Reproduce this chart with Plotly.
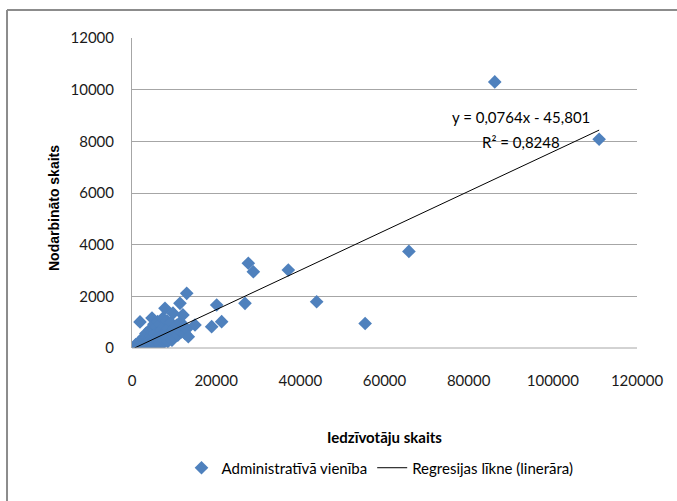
import plotly.graph_objects as go

# Population (Iedzīvotāju skaits) and employed persons (Nodarbināto skaits)
# for each administrative unit
population = [
    600, 800, 900, 1000, 1200, 1400, 1500, 1700, 1800, 1900, 2000, 2100, 2200,
    2300, 2400, 2500, 2600, 2700, 2800, 2900, 3000, 3000, 3100, 3200, 3300,
    3300, 3400, 3500, 3600, 3600, 3700, 3800, 3900, 4000, 4000, 4100, 4200,
    4300, 4300, 4400, 4500, 4600, 4700, 4750, 4800, 4900, 5000, 5000, 5100,
    5200, 5200, 5300, 5400, 5500, 5600, 5700, 5800, 5900, 6000, 6100, 6100,
    6200, 6300, 6400, 6500, 6500, 6600, 6700, 6800, 6900, 7000, 7200, 7300,
    7400, 7500, 7600, 7800, 7840, 8000, 8200, 8300, 8400, 8500, 8600, 8800,
    9000, 9200, 9400, 9500, 9600, 9740, 9800, 10000, 10300, 10600, 10900,
    11200, 11400, 11500, 11800, 12100, 12200, 12600, 13000, 13000, 13380,
    14970, 18930, 20120, 21300, 26850, 27640, 28830, 37140, 43880, 55400,
    65800, 86200, 111000,
]
employed = [
    30, 80, 130, 40, 60, 20, 110, 230, 90, 1010, 150, 60, 320,
    180, 120, 40, 210, 90, 420, 260, 150, 50, 330, 200, 120,
    560, 280, 420, 190, 60, 250, 310, 150, 540, 80, 230, 380,
    290, 720, 170, 460, 330, 250, 1160, 620, 390, 280, 100, 720,
    450, 920, 210, 350, 560, 300, 410, 820, 480, 260, 380, 1020,
    650, 520, 330, 440, 150, 900, 580, 360, 470, 700, 400, 1150,
    550, 200, 300, 850, 1535, 480, 620, 1050, 380, 250, 760, 520,
    450, 980, 640, 300, 560, 1350, 420, 760, 600, 880, 500,
    700, 1730, 1000, 620, 1280, 820, 560, 740, 2117, 437,
    890, 825, 1665, 1020, 1730, 3280, 2950, 3020, 1790, 950,
    3740, 10300, 8080,
]

# Linear trend line (regression) parameters
slope = 0.0764
intercept = -45.801
r_squared = 0.8248

x_ticks = [0, 20000, 40000, 60000, 80000, 100000, 120000]
y_ticks = [0, 2000, 4000, 6000, 8000, 10000, 12000]

BLUE = "#4f81bd"
GRID = "#a6a6a6"
FONT = "Lato, Roboto, sans-serif"
TICK_FONT = dict(family=FONT, size=15, color="#1a1a1a")

x_line = [min(population), max(population)]
y_line = [slope * v + intercept for v in x_line]

fig = go.Figure()
fig.add_trace(go.Scatter(
    x=population, y=employed, mode="markers",
    name="Administratīvā vienība",
    marker=dict(symbol="diamond", size=10.5, color=BLUE, line=dict(width=0)),
))
fig.add_trace(go.Scatter(
    x=x_line, y=y_line, mode="lines",
    name="Regresijas līkne (linerāra)",
    line=dict(color="black", width=1),
))

fig.update_layout(
    width=677, height=501,
    margin=dict(l=132, r=40, t=38, b=153),
    paper_bgcolor="white", plot_bgcolor="white",
    showlegend=True,
    legend=dict(
        orientation="h", x=0.098, xanchor="left", y=-0.387, yanchor="middle",
        font=dict(family=FONT, size=15, color="#000000"),
        bgcolor="rgba(0,0,0,0)", itemwidth=30, tracegroupgap=0,
    ),
    xaxis=dict(
        range=[0, 120000], tickvals=x_ticks, ticktext=[str(v) for v in x_ticks],
        showgrid=False, zeroline=False, showline=False,
        ticks="", ticklabelstandoff=22, tickfont=TICK_FONT,
    ),
    yaxis=dict(
        range=[0, 12000], tickvals=y_ticks, ticktext=[str(v) for v in y_ticks],
        showgrid=True, gridcolor=GRID, gridwidth=1, zeroline=False,
        showline=True, linecolor=GRID, linewidth=1,
        ticks="", ticklabelstandoff=14, tickfont=TICK_FONT,
    ),
    shapes=[
        # outer chart frame (left and top edges)
        dict(type="line", xref="paper", yref="paper", x0=-0.2475, x1=1.2,
             y0=1.0903, y1=1.0903, line=dict(color="#8c8c8c", width=2)),
        dict(type="line", xref="paper", yref="paper", x0=-0.2475, x1=-0.2475,
             y0=1.0903, y1=-0.6, line=dict(color="#8c8c8c", width=2)),
        # bottom grid line
        dict(type="line", xref="paper", yref="paper", x0=0, x1=1,
             y0=0, y1=0, line=dict(color=GRID, width=1)),
    ],
    annotations=[
        dict(text="<b>Iedzīvotāju skaits</b>", xref="paper", yref="paper",
             x=(384 - 132) / 505, y=(348 - 437) / 310, xanchor="center", yanchor="middle",
             showarrow=False, font=dict(family=FONT, size=15, color="#000000")),
        dict(text="<b>Nodarbināto skaits</b>", xref="paper", yref="paper",
             x=(54 - 132) / 505, y=(348 - 208) / 310, xanchor="center", yanchor="middle",
             textangle=-90, showarrow=False,
             font=dict(family="Liberation Sans, Arial, sans-serif", size=14, color="#000000")),
        dict(text=f"y = {slope:.4f}x - {abs(intercept):.3f}".replace(".", ","),
             xref="paper", yref="paper", x=(521 - 132) / 505, y=(348 - 117) / 310,
             xanchor="center", yanchor="middle", showarrow=False,
             font=dict(family=FONT, size=15, color="#000000")),
        dict(text=f"R² = {r_squared:.4f}".replace(".", ","),
             xref="paper", yref="paper", x=(521 - 132) / 505, y=(348 - 142) / 310,
             xanchor="center", yanchor="middle", showarrow=False,
             font=dict(family=FONT, size=15, color="#000000")),
    ],
)

fig.write_html("out.html")
